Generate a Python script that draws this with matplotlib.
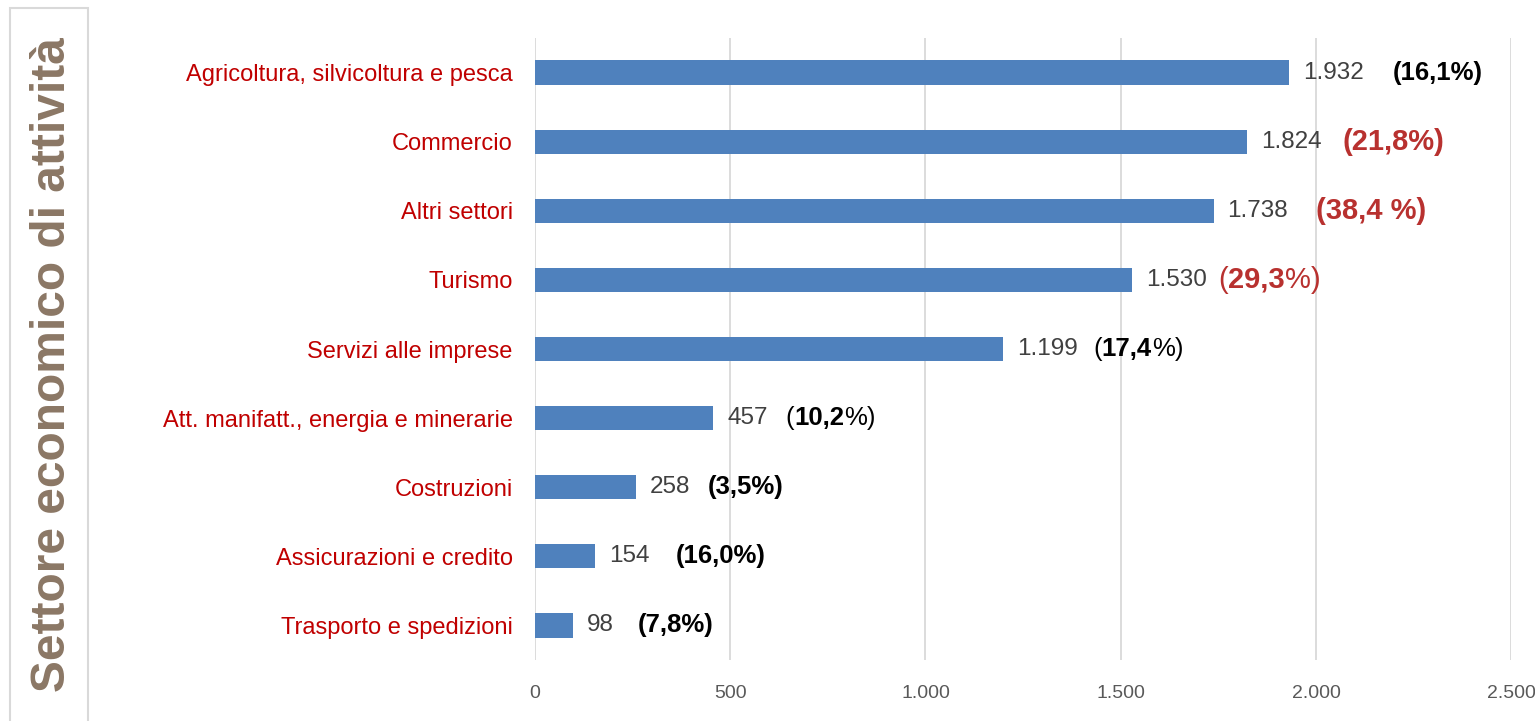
import matplotlib
matplotlib.use("Agg")
import matplotlib.pyplot as plt
from matplotlib.patches import Rectangle

categories = [
    "Agricoltura, silvicoltura e pesca",
    "Commercio",
    "Altri settori",
    "Turismo",
    "Servizi alle imprese",
    "Att. manifatt., energia e minerarie",
    "Costruzioni",
    "Assicurazioni e credito",
    "Trasporto e spedizioni",
]
values = [1932, 1824, 1738, 1530, 1199, 457, 258, 154, 98]
value_labels = ["1.932", "1.824", "1.738", "1.530", "1.199", "457", "258", "154", "98"]
pct_labels = ["16,1", "21,8", "38,4 ", "29,3", "17,4", "10,2", "3,5", "16,0", "7,8"]
xticks = [0, 500, 1000, 1500, 2000, 2500]
xtick_labels = ["0", "500", "1.000", "1.500", "2.000", "2.500"]

# styling (not data)
pct_colors = ["black", "#B8312F", "#B8312F", "#B8312F", "black", "black", "black", "black", "black"]
pct_sizes = [18.5, 21, 21, 21, 18.5, 18.5, 18.5, 18.5, 18.5]
pct_mixed = [False, False, False, True, True, True, False, False, False]
pct_gap = [21, 15, 20, 8, 11, 13, 13, 19, 17]

FONT = ["Liberation Sans", "DejaVu Sans"]
plt.rcParams["font.family"] = FONT

fig = plt.figure(figsize=(15.35, 7.21), dpi=100)
ax = fig.add_axes([0.3485, 0.0846, 0.636, 0.8627])

y = list(range(len(categories)))
ax.barh(y, values, height=0.35, color="#4F81BD", zorder=3)
ax.set_ylim(len(categories) - 0.5, -0.5)
ax.set_xlim(0, 2500)
ax.set_xticks(xticks)
ax.set_xticklabels(xtick_labels, family=["Liberation Sans Narrow", "Liberation Sans"],
                   fontsize=14, color="#595959")
ax.set_yticks(y)
ax.set_yticklabels(categories, fontsize=17, color="#C00000")
ax.tick_params(axis="both", length=0)
ax.tick_params(axis="x", pad=18)
ax.tick_params(axis="y", pad=16)
for s in ax.spines.values():
    s.set_visible(False)
ax.grid(axis="x", color="#D9D9D9", linewidth=1.3, zorder=0)
ax.set_axisbelow(True)

for i, v in enumerate(values):
    t = ax.annotate(value_labels[i], xy=(v, i), xytext=(10, 0), textcoords="offset points",
                    va="center", ha="left", fontsize=17.5, color="#404040", zorder=4)
    col = pct_colors[i]
    fs = pct_sizes[i]
    if pct_mixed[i]:
        parts = [("(", "normal"), (pct_labels[i], "bold"), ("%)", "normal")]
    else:
        parts = [("(" + pct_labels[i] + "%)", "bold")]
    prev = t
    first = True
    for txt, w in parts:
        a = ax.annotate(txt, xy=(1, 0.5), xycoords=prev,
                        xytext=(pct_gap[i] if first else 0, 0), textcoords="offset points",
                        va="center", ha="left", fontsize=fs, fontweight=w, color=col, zorder=4)
        prev = a
        first = False

# left title box
fig.patches.append(Rectangle((10 / 1535, -0.05), 78 / 1535, 1.0 - 8 / 721 + 0.05,
                             transform=fig.transFigure, fill=False,
                             edgecolor="#D9D9D9", linewidth=1.5))
fig.text(53 / 1535, 0.494, "Settore economico di attività", rotation=90,
         ha="center", va="center", fontsize=34.5, fontweight="bold", color="#8B7765")

fig.savefig("out.png", dpi=100, facecolor="white")
